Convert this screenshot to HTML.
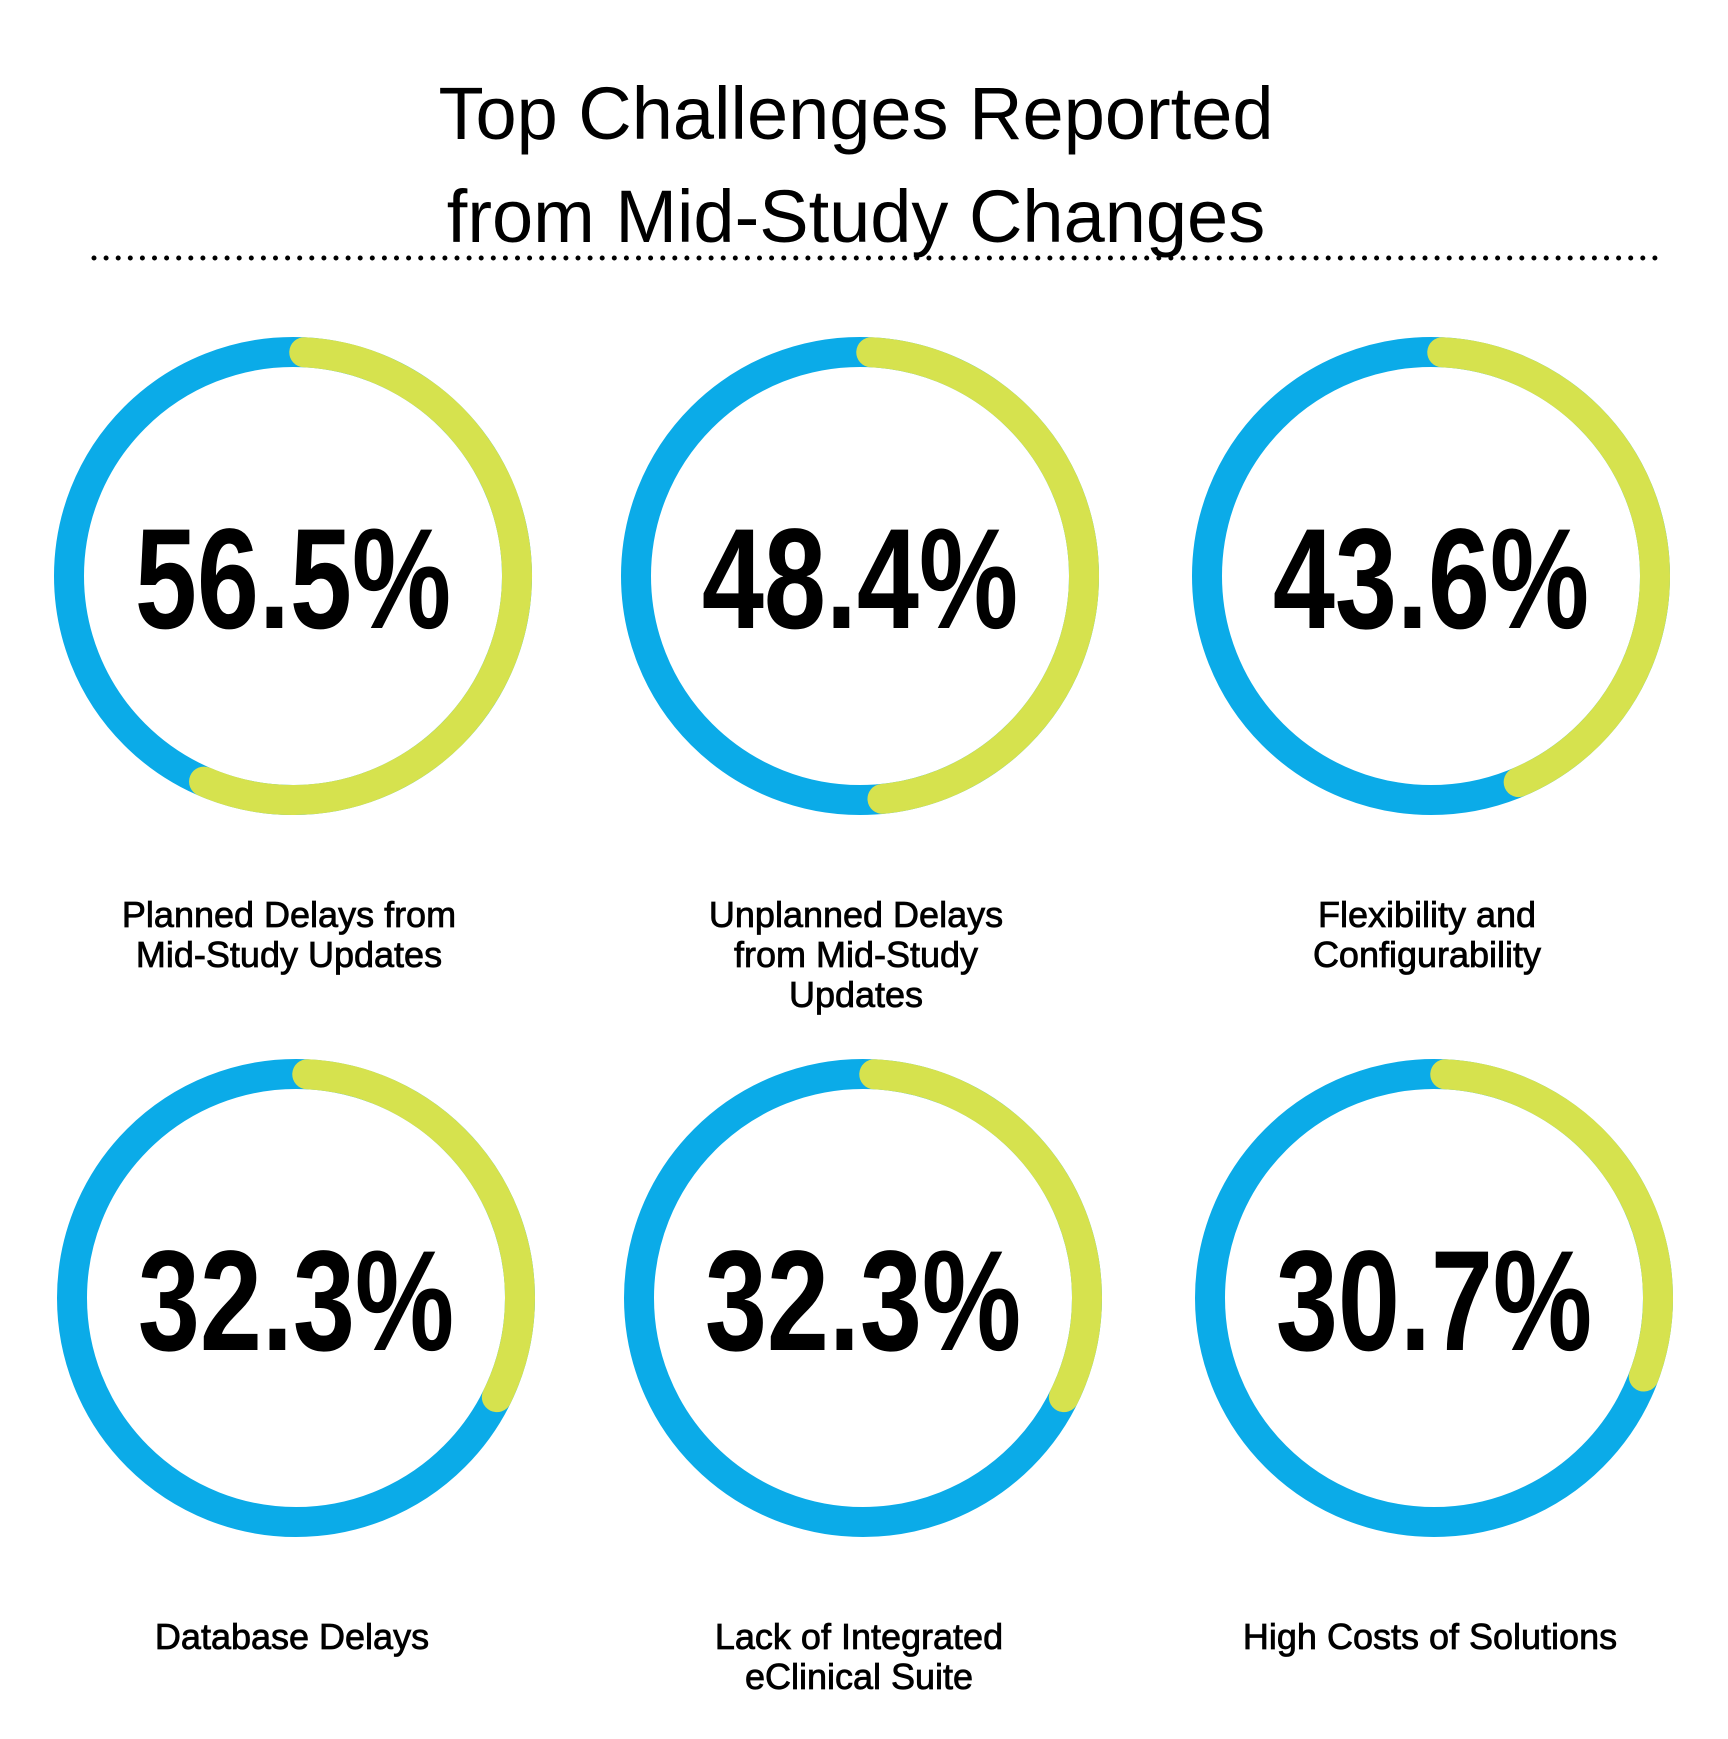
<!DOCTYPE html>
<html><head><meta charset="utf-8"><style>
html,body{margin:0;padding:0;background:#fff;}
svg{display:block;}
</style></head><body>
<svg id="chart" width="1728" height="1739" viewBox="0 0 1728 1739" xmlns="http://www.w3.org/2000/svg">
<rect width="1728" height="1739" fill="#fff"/>
<g font-family="Liberation Sans, sans-serif" font-size="74" fill="#000" text-anchor="middle">
<text x="856" y="139">Top Challenges Reported</text>
<text x="856" y="242">from Mid-Study Changes</text>
</g>
<line x1="94" y1="258" x2="1656" y2="258" stroke="#000" stroke-width="5" stroke-linecap="round" stroke-dasharray="0 12.1"/>
<g id="rings"></g>
</svg>
<script>
const categories = [
  ["Planned Delays from", "Mid-Study Updates"],
  ["Unplanned Delays", "from Mid-Study", "Updates"],
  ["Flexibility and", "Configurability"],
  ["Database Delays"],
  ["Lack of Integrated", "eClinical Suite"],
  ["High Costs of Solutions"]
];
const values = [56.5, 48.4, 43.6, 32.3, 32.3, 30.7];
const valueLabels = ["56.5%", "48.4%", "43.6%", "32.3%", "32.3%", "30.7%"];

const NS = "http://www.w3.org/2000/svg";
const g = document.getElementById("rings");
const colX = [293, 860, 1431];
const rowY = [576, 1298];
const R = 224, SW = 30;
const labelY = [915, 1637];

function arcPoint(cx, cy, r, pct) {
  const a = pct / 100 * 2 * Math.PI;
  return [cx + r * Math.sin(a), cy - r * Math.cos(a)];
}
function mk(tag, attrs) {
  const e = document.createElementNS(NS, tag);
  for (const k in attrs) e.setAttribute(k, attrs[k]);
  return e;
}

values.forEach((v, i) => {
  const cx = colX[i % 3] + (i >= 3 ? 3 : 0);
  const cy = rowY[Math.floor(i / 3)];
  const grp = mk("g", {});
  
  

  const base = mk("circle", {cx: cx, cy: cy, r: R, fill: "none", stroke: "#0BABE8", "stroke-width": SW});
  
  
  grp.appendChild(base);

  const s = arcPoint(cx, cy, R, 0.8);
  const e = arcPoint(cx, cy, R, v);
  const large = v > 50 ? 1 : 0;
  const arc = mk("path", {d: `M${s[0]},${s[1]} A${R},${R} 0 ${large} 1 ${e[0]},${e[1]}`, fill: "none", stroke: "#D6E24E", "stroke-width": SW, "stroke-linecap": "round"});
  
  
  grp.appendChild(arc);

  const t = mk("text", {x: 0, y: 0, "font-family": "Liberation Sans, sans-serif", "font-weight": "bold", "font-size": 143, fill: "#000", "text-anchor": "middle", transform: `translate(${cx},${cy + 52}) scale(0.78,1)`});
  t.textContent = valueLabels[i];
  
  
  grp.appendChild(t);

  const ly = labelY[Math.floor(i / 3)];
  categories[i].forEach((line, j) => {
    const lt = mk("text", {x: cx - 4, y: ly + j * 40 + 12, "font-family": "Liberation Sans, sans-serif", "font-size": 36, fill: "#000", stroke: "#000", "stroke-width": 0.8, "text-anchor": "middle"});
    lt.textContent = line;
    
    
    grp.appendChild(lt);
  });
  g.appendChild(grp);
});
</script>
</body></html>
